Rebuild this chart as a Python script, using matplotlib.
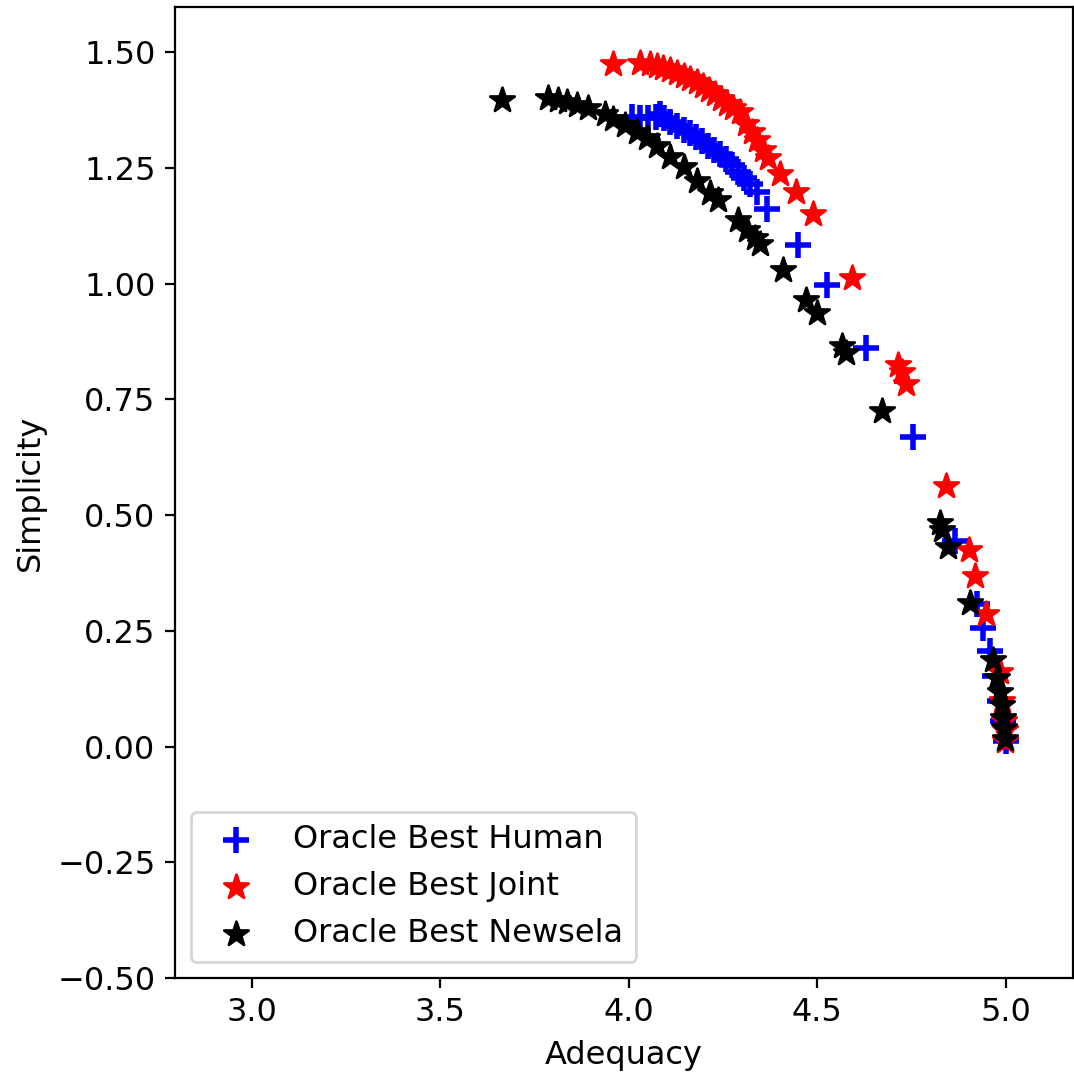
import matplotlib
matplotlib.use("Agg")
import matplotlib.pyplot as plt

plt.rcParams['font.size'] = 11.5

# Oracle Best Human
human_adequacy = [4.008, 4.029, 4.050, 4.072, 4.082, 4.093, 4.109, 4.127, 4.146, 4.162,
                  4.178, 4.194, 4.210, 4.225, 4.241, 4.257, 4.273, 4.289, 4.305, 4.321,
                  4.340, 4.366, 4.448, 4.525, 4.629, 4.753, 4.865, 4.923, 4.939, 4.958,
                  4.971, 4.984, 4.992, 5.000]
human_simplicity = [1.359, 1.357, 1.357, 1.359, 1.366, 1.357, 1.348, 1.340, 1.331, 1.325,
                    1.316, 1.307, 1.296, 1.288, 1.279, 1.268, 1.255, 1.240, 1.227, 1.214,
                    1.197, 1.162, 1.083, 0.996, 0.860, 0.668, 0.445, 0.307, 0.257, 0.207,
                    0.153, 0.099, 0.056, 0.013]

# Oracle Best Joint
joint_adequacy = [3.958, 4.029, 4.056, 4.074, 4.090, 4.109, 4.127, 4.146, 4.162, 4.180,
                  4.196, 4.212, 4.228, 4.244, 4.260, 4.276, 4.294, 4.310, 4.326, 4.340,
                  4.355, 4.369, 4.401, 4.443, 4.488, 4.592, 4.714, 4.724, 4.735, 4.841,
                  4.902, 4.918, 4.947, 4.984, 4.989, 4.995, 4.997, 4.997]
joint_simplicity = [1.474, 1.476, 1.474, 1.469, 1.465, 1.461, 1.454, 1.448, 1.441, 1.435,
                    1.426, 1.417, 1.409, 1.398, 1.387, 1.379, 1.370, 1.344, 1.327, 1.309,
                    1.288, 1.271, 1.236, 1.197, 1.150, 1.013, 0.825, 0.808, 0.782, 0.562,
                    0.424, 0.369, 0.287, 0.160, 0.099, 0.056, 0.035, 0.013]

# Oracle Best Newsela
newsela_adequacy = [3.663, 3.785, 3.812, 3.836, 3.862, 3.891, 3.936, 3.958, 3.989, 4.021,
                    4.048, 4.074, 4.109, 4.146, 4.180, 4.215, 4.236, 4.289, 4.313, 4.334,
                    4.347, 4.408, 4.469, 4.499, 4.565, 4.576, 4.671, 4.825, 4.830, 4.846,
                    4.905, 4.966, 4.976, 4.984, 4.989, 4.992, 4.995, 4.997]
newsela_simplicity = [1.396, 1.400, 1.396, 1.392, 1.385, 1.379, 1.366, 1.355, 1.342, 1.327,
                      1.314, 1.296, 1.273, 1.251, 1.221, 1.195, 1.180, 1.137, 1.115, 1.098,
                      1.085, 1.029, 0.964, 0.936, 0.866, 0.851, 0.724, 0.482, 0.467, 0.430,
                      0.311, 0.186, 0.147, 0.117, 0.089, 0.061, 0.039, 0.017]

fig = plt.figure(figsize=(5.37, 5.4), dpi=200)
ax = fig.add_axes([0.163, 0.0944, 0.836, 0.899])

ax.scatter(human_adequacy, human_simplicity, marker='+', color='blue', s=85,
           linewidths=2, label='Oracle Best Human')
ax.scatter(joint_adequacy, joint_simplicity, marker='*', color='red', s=85,
           label='Oracle Best Joint')
ax.scatter(newsela_adequacy, newsela_simplicity, marker='*', color='black', s=85,
           label='Oracle Best Newsela')

ax.set_xlim(2.796, 5.178)
ax.set_ylim(-0.5, 1.597)
ax.set_xticks([3.0, 3.5, 4.0, 4.5, 5.0])
ax.set_yticks([-0.5, -0.25, 0.0, 0.25, 0.5, 0.75, 1.0, 1.25, 1.5])
ax.set_xlabel('Adequacy')
ax.set_ylabel('Simplicity')
ax.legend(loc='lower left')

fig.savefig('out.png', dpi=200)
